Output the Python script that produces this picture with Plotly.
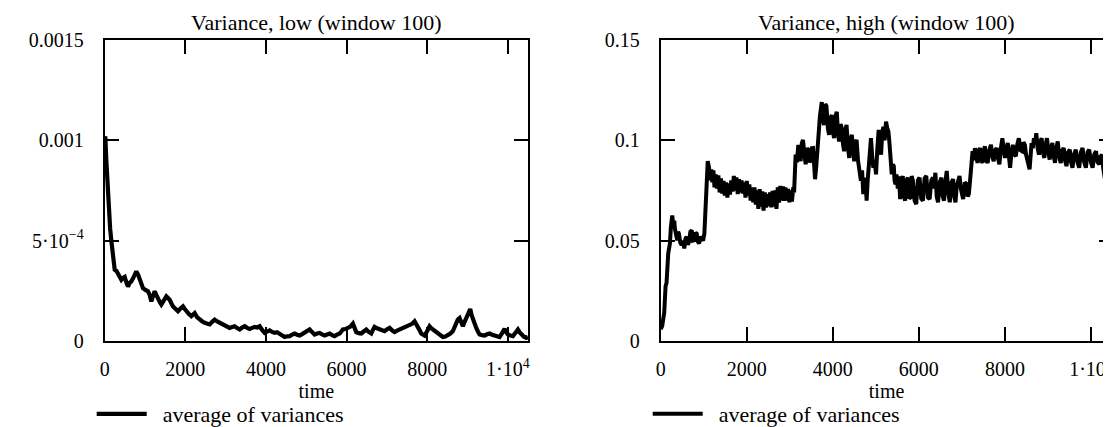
import plotly.graph_objects as go

# ---------------- data ----------------
low_time = [0, 15, 40, 65, 85, 107, 135, 165, 206, 248, 290, 330, 370, 413, 455, 496, 540, 578, 620, 661,
            720, 785, 830, 868, 910, 950, 1010, 1074, 1115, 1157, 1200, 1240, 1280, 1322, 1365, 1405,
            1470, 1529, 1570, 1612, 1650, 1694, 1760, 1818, 1880, 1942, 1985, 2025, 2090, 2149, 2190,
            2232, 2290, 2356, 2420, 2480, 2540, 2604, 2665, 2728, 2790, 2852, 2915, 2976, 3040, 3100,
            3160, 3224, 3285, 3348, 3410, 3472, 3534, 3596, 3658, 3720, 3782, 3844, 3905, 3968, 4030,
            4092, 4154, 4216, 4278, 4340, 4400, 4463, 4525, 4587, 4650, 4711, 4773, 4835, 4897, 4959,
            5020, 5083, 5124, 5207, 5270, 5331, 5393, 5455, 5517, 5579, 5641, 5703, 5765, 5827, 5870,
            5909, 5970, 6033, 6095, 6157, 6200, 6240, 6300, 6364, 6426, 6488, 6550, 6612, 6650, 6694,
            6756, 6818, 6880, 6942, 7004, 7066, 7128, 7190, 7252, 7314, 7376, 7438, 7500, 7562, 7625,
            7686, 7730, 7769, 7810, 7851, 7890, 7934, 8000, 8058, 8100, 8141, 8200, 8265, 8325, 8389,
            8450, 8513, 8575, 8637, 8680, 8720, 8760, 8802, 8845, 8885, 8925, 8968, 9020, 9067, 9100,
            9133, 9175, 9216, 9258, 9299, 9360, 9423, 9485, 9547, 9610, 9671, 9733, 9795, 9857, 9919,
            9960, 10002, 10065, 10126, 10190, 10250, 10290, 10333, 10400, 10457, 10500]
low_var = [9.6e-4, 1.02e-3, 9.0e-4, 7.8e-4, 7.0e-4, 6.35e-4, 5.6e-4, 5.0e-4, 4.0e-4, 3.55e-4, 3.5e-4,
           3.38e-4, 3.2e-4, 3.05e-4, 3.15e-4, 3.2e-4, 2.9e-4, 2.72e-4, 2.9e-4, 2.97e-4, 3.2e-4, 3.47e-4,
           3.3e-4, 3.05e-4, 2.8e-4, 2.64e-4, 2.55e-4, 2.48e-4, 2.3e-4, 1.98e-4, 2.25e-4, 2.48e-4, 2.3e-4,
           2.06e-4, 1.95e-4, 1.82e-4, 2.05e-4, 2.23e-4, 2.15e-4, 2.06e-4, 1.9e-4, 1.73e-4, 1.6e-4,
           1.49e-4, 1.62e-4, 1.73e-4, 1.6e-4, 1.49e-4, 1.35e-4, 1.24e-4, 1.32e-4, 1.40e-4, 1.2e-4,
           1.07e-4, 9.8e-5, 9.1e-5, 8.8e-5, 8.3e-5, 9.6e-5, 1.07e-4, 9.8e-5, 9.1e-5, 8.2e-5, 7.4e-5,
           7.0e-5, 6.6e-5, 7.0e-5, 7.4e-5, 6.5e-5, 5.8e-5, 6.8e-5, 7.4e-5, 6.6e-5, 6.1e-5, 6.6e-5,
           7.1e-5, 6.8e-5, 7.4e-5, 5.6e-5, 4.1e-5, 4.8e-5, 5.4e-5, 4.6e-5, 4.1e-5, 4.4e-5, 3.8e-5,
           2.8e-5, 2.1e-5, 2.4e-5, 2.5e-5, 3.2e-5, 3.8e-5, 3.2e-5, 2.8e-5, 3.5e-5, 4.1e-5, 4.8e-5,
           5.8e-5, 4.95e-5, 3.3e-5, 3.8e-5, 4.1e-5, 3.4e-5, 2.8e-5, 3.3e-5, 3.8e-5, 3.0e-5, 2.5e-5,
           3.2e-5, 3.8e-5, 4.8e-5, 5.8e-5, 6.0e-5, 6.6e-5, 7.2e-5, 8.7e-5, 6.0e-5, 4.5e-5, 4.0e-5,
           3.8e-5, 4.8e-5, 5.8e-5, 4.6e-5, 3.8e-5, 5.5e-5, 7.1e-5, 6.4e-5, 6.1e-5, 5.4e-5, 5.0e-5,
           5.9e-5, 6.6e-5, 5.4e-5, 4.5e-5, 5.2e-5, 5.8e-5, 6.2e-5, 6.6e-5, 7.2e-5, 7.8e-5, 8.6e-5,
           9.9e-5, 8.5e-5, 7.4e-5, 5.5e-5, 3.8e-5, 3.0e-5, 2.8e-5, 5.0e-5, 7.4e-5, 6.4e-5, 5.8e-5,
           4.6e-5, 3.8e-5, 2.8e-5, 2.1e-5, 2.3e-5, 2.8e-5, 3.8e-5, 5.0e-5, 7.5e-5, 9.9e-5, 1.08e-4,
           1.15e-4, 9.0e-5, 7.4e-5, 9.5e-5, 1.15e-4, 1.4e-4, 1.6e-4, 1.3e-4, 1.07e-4, 8.5e-5, 6.6e-5,
           4.8e-5, 3.3e-5, 3.0e-5, 2.8e-5, 3.4e-5, 3.8e-5, 3.2e-5, 2.8e-5, 2.4e-5, 2.1e-5, 4.0e-5,
           6.1e-5, 4.5e-5, 3.3e-5, 2.8e-5, 2.5e-5, 4.2e-5, 5.8e-5, 4.5e-5, 3.3e-5, 2.2e-5, 1.6e-5, 2.0e-5]

high_time = [
    0, 35, 58, 82, 113, 136, 175, 214, 237, 269, 290, 315, 330, 346, 365, 385, 405, 424, 455, 486,
    518, 549, 576, 603, 630, 657, 690, 720, 750, 782, 810, 837, 865, 891, 922, 953, 985, 1015, 1030,
    1046, 1069,
    1093, 1124, 1150, 1175, 1200, 1225, 1250, 1280, 1310, 1340, 1370, 1400, 1430, 1460, 1490, 1520,
    1550, 1580, 1610, 1640, 1670, 1700, 1730, 1760, 1790, 1820, 1850, 1880, 1910, 1940, 1970, 2000,
    2030, 2060, 2090, 2120, 2150, 2180, 2210, 2240, 2270, 2300, 2330, 2360, 2390, 2420, 2450, 2480,
    2510, 2540, 2570, 2600, 2630, 2660, 2690, 2720, 2750, 2780, 2810, 2840, 2870, 2900, 2930, 2960,
    2990, 3020, 3050, 3080, 3100,
    3136, 3165, 3198, 3225, 3252, 3280, 3307, 3340, 3369, 3400, 3431, 3460, 3493, 3515, 3540, 3565,
    3587, 3615, 3641, 3660, 3680,
    3700, 3720, 3743, 3770, 3797, 3825, 3852, 3885, 3914, 3945, 3976, 4003, 4030, 4060, 4093, 4120,
    4147, 4180, 4210, 4237, 4264, 4290, 4319, 4350, 4381, 4410, 4443, 4470, 4498, 4525, 4552, 4585,
    4614, 4653, 4680, 4708, 4730, 4755, 4770, 4786, 4810, 4833, 4860, 4887, 4915, 4942, 4975, 5004,
    5035, 5066, 5095, 5121, 5150, 5175, 5205, 5237, 5265, 5292, 5315, 5339, 5355, 5370, 5395, 5417,
    5435, 5456,
    5480, 5510, 5537, 5565, 5595, 5627, 5655, 5681, 5712, 5744, 5775, 5806, 5833, 5860, 5900, 5938,
    5977, 6016, 6055, 6094, 6133, 6172, 6211, 6250, 6289, 6328, 6355, 6383, 6415, 6445, 6485, 6523,
    6555, 6585, 6615, 6648, 6683, 6718, 6757, 6796, 6823, 6850, 6880, 6913, 6945, 6975, 7000, 7029,
    7068, 7107, 7135, 7162, 7190, 7209, 7230, 7248,
    7275, 7302, 7333, 7364, 7392, 7419, 7450, 7481, 7508, 7536, 7567, 7598, 7637, 7676, 7707, 7738,
    7773, 7808, 7840, 7871, 7906, 7941, 7972, 8003, 8035, 8066, 8093, 8120, 8150, 8182, 8218, 8253,
    8288, 8323, 8362, 8401, 8432, 8463, 8490, 8518, 8545, 8573, 8596, 8619, 8647, 8674, 8700, 8729,
    8760, 8791, 8822, 8853, 8884, 8915, 8947, 8978, 9009, 9040, 9071, 9102, 9133, 9165, 9196, 9227,
    9262, 9297, 9332, 9367, 9398, 9430, 9469, 9508, 9539, 9570, 9609, 9648, 9687, 9726, 9765, 9804,
    9843, 9882, 9921, 9960, 9999, 10038, 10077, 10116, 10155, 10194, 10225, 10257, 10285, 10311,
    10340, 10366, 10390, 10413, 10440, 10467, 10500]
high_var = [
    0.006, 0.0076, 0.0109, 0.0142, 0.0273, 0.029, 0.0437, 0.0486, 0.0568, 0.0625, 0.0580, 0.0600,
    0.0560, 0.0535, 0.0520, 0.0502, 0.0545, 0.0535, 0.0490, 0.0478, 0.0500, 0.0461, 0.0510, 0.0520,
    0.0480, 0.0494, 0.0545, 0.0552, 0.0500, 0.0502, 0.0540, 0.0535, 0.0495, 0.0486, 0.0520, 0.0510,
    0.0500, 0.0535, 0.0600, 0.0682, 0.0765,
    0.0896, 0.0863, 0.0800, 0.0855, 0.0790, 0.0850, 0.0765, 0.0830, 0.0760, 0.0825, 0.0740, 0.0810,
    0.0735, 0.0798, 0.0725, 0.0790, 0.0715, 0.0785, 0.0730, 0.0800, 0.0745, 0.0822, 0.0750, 0.0815,
    0.0732, 0.0806, 0.0740, 0.0800, 0.0735, 0.0790, 0.0715, 0.0798, 0.0725, 0.0780, 0.0700, 0.0765,
    0.0691, 0.0765, 0.0680, 0.0750, 0.0658, 0.0757, 0.0670, 0.0745, 0.0650, 0.0740, 0.0665, 0.0732,
    0.0672, 0.0740, 0.0666, 0.0748, 0.0670, 0.0750, 0.0658, 0.0765, 0.0690, 0.0773, 0.0700, 0.0770,
    0.0699, 0.0765, 0.0700, 0.0757, 0.0691, 0.0750, 0.0695, 0.0765, 0.0740,
    0.0928, 0.0890, 0.0977, 0.0920, 0.0896, 0.0985, 0.1002, 0.0930, 0.0880, 0.0960, 0.0953, 0.0890,
    0.0904, 0.0960, 0.0961, 0.0880, 0.0806, 0.0870, 0.0928, 0.0990, 0.1060,
    0.1120, 0.1170, 0.1190, 0.1100, 0.1076, 0.1180, 0.1170, 0.1060, 0.1027, 0.1110, 0.1125, 0.1040,
    0.1010, 0.1120, 0.1141, 0.1030, 0.0994, 0.1080, 0.1059, 0.0980, 0.0945, 0.1050, 0.1076, 0.0970,
    0.0912, 0.1000, 0.1027, 0.0940, 0.0896, 0.0990, 0.1002, 0.0900, 0.0847, 0.0798, 0.0850, 0.0732,
    0.0790, 0.0814, 0.0760, 0.0699, 0.0800, 0.0880, 0.0960, 0.1010, 0.0920, 0.0863, 0.0900, 0.0830,
    0.0960, 0.1051, 0.0980, 0.0928, 0.1040, 0.1067, 0.1000, 0.1093, 0.1060, 0.1044, 0.0990, 0.0928,
    0.0880, 0.0830, 0.0880, 0.0871, 0.0800, 0.0781,
    0.0830, 0.0760, 0.0820, 0.0707, 0.0800, 0.0822, 0.0720, 0.0699, 0.0800, 0.0814, 0.0710, 0.0715,
    0.0822, 0.0800, 0.0700, 0.0682, 0.0800, 0.0814, 0.0710, 0.0699, 0.0810, 0.0822, 0.0715, 0.0707,
    0.0800, 0.0814, 0.0760, 0.0838, 0.0720, 0.0691, 0.0790, 0.0814, 0.0720, 0.0699, 0.0790, 0.0847,
    0.0740, 0.0691, 0.0790, 0.0806, 0.0720, 0.0691, 0.0770, 0.0790, 0.0822, 0.0760, 0.0730, 0.0707,
    0.0790, 0.0781, 0.0720, 0.0732, 0.0800, 0.0847, 0.0900, 0.0945,
    0.0900, 0.0961, 0.0920, 0.0887, 0.0950, 0.0961, 0.0900, 0.0887, 0.0950, 0.0969, 0.0900, 0.0887,
    0.0950, 0.0977, 0.0920, 0.0896, 0.0950, 0.0961, 0.0910, 0.0880, 0.0960, 0.1010, 0.0950, 0.0912,
    0.0960, 0.0986, 0.0920, 0.0863, 0.0930, 0.0977, 0.0930, 0.0920, 0.0980, 0.1010, 0.0950, 0.0945,
    0.0990, 0.0977, 0.0930, 0.0904, 0.0880, 0.0855, 0.0920, 0.0986, 0.0960, 0.1010, 0.0980, 0.1035,
    0.0960, 0.0928, 0.0990, 0.1010, 0.0940, 0.0912, 0.0980, 0.1010, 0.0940, 0.0904, 0.0960, 0.0986,
    0.0920, 0.0887, 0.0960, 0.0994, 0.0920, 0.0887, 0.0950, 0.0961, 0.0900, 0.0871, 0.0940, 0.0953,
    0.0890, 0.0863, 0.0930, 0.0953, 0.0890, 0.0863, 0.0940, 0.0961, 0.0890, 0.0863, 0.0940, 0.0953,
    0.0890, 0.0863, 0.0930, 0.0945, 0.0890, 0.0880, 0.0920, 0.0928, 0.0860, 0.0814, 0.0780, 0.0748,
    0.0800, 0.0830, 0.0880, 0.0912, 0.0945]

x_tickvals = [0, 2000, 4000, 6000, 8000, 10000]
x_ticktext = ["0", "2000", "4000", "6000", "8000", "1\u00b710<sup>4</sup>"]
low_tickvals = [0, 0.0005, 0.001, 0.0015]
low_ticktext = ["0", "5\u00b710<sup>\u22124</sup>", "0.001", "0.0015"]
high_tickvals = [0, 0.05, 0.1, 0.15]
high_ticktext = ["0", "0.05", "0.1", "0.15"]
titles = ["Variance, low (window 100)", "Variance, high (window 100)"]
series_name = "\u00a0\u00a0average of variances"
x_title = "time"

# ---------------- figure ----------------
FONT = "Liberation Serif, Times New Roman, serif"
W, H = 1111, 427
dom_x1 = [96.7 / W, 520 / W]
dom_x2 = [652.7 / W, 1104.5 / W]
dom_y = [1 - 335.5 / H, 1 - 32 / H]

fig = go.Figure()
fig.add_trace(go.Scatter(x=low_time, y=low_var, mode="lines", name=series_name,
                         line=dict(color="black", width=4.2), xaxis="x", yaxis="y",
                         legend="legend"))
fig.add_trace(go.Scatter(x=high_time, y=high_var, mode="lines", name=series_name,
                         line=dict(color="black", width=4), xaxis="x2", yaxis="y2",
                         legend="legend2"))

axis_common = dict(showline=True, linecolor="black", linewidth=2, mirror="allticks",
                   ticks="inside", ticklen=14, tickwidth=2, tickcolor="black",
                   showgrid=False, zeroline=False, automargin=False,
                   tickfont=dict(family=FONT, size=20, color="black"))

fig.update_layout(
    width=W, height=H,
    margin=dict(l=0, r=0, t=0, b=0),
    paper_bgcolor="white", plot_bgcolor="white",
    font=dict(family=FONT, color="black"),
    xaxis=dict(domain=dom_x1, range=[0, 10500], tickvals=x_tickvals, ticktext=x_ticktext,
               anchor="y", ticklabelstandoff=9,
               title=dict(text=x_title, font=dict(family=FONT, size=20), standoff=0),
               **axis_common),
    yaxis=dict(domain=dom_y, range=[0, 0.0015], tickvals=low_tickvals, ticktext=low_ticktext,
               anchor="x", ticklabelstandoff=15, **axis_common),
    xaxis2=dict(domain=dom_x2, range=[0, 10500], tickvals=x_tickvals, ticktext=x_ticktext,
                anchor="y2", ticklabelstandoff=9,
                title=dict(text=x_title, font=dict(family=FONT, size=20), standoff=0),
                **axis_common),
    yaxis2=dict(domain=dom_y, range=[0, 0.15], tickvals=high_tickvals, ticktext=high_ticktext,
                anchor="x2", ticklabelstandoff=15, **axis_common),
    legend=dict(x=(96.7 - 13) / W, y=1 - 409 / H, xanchor="left", yanchor="middle",
                font=dict(family=FONT, size=22), bgcolor="rgba(0,0,0,0)", itemwidth=50),
    legend2=dict(x=(652.7 - 13) / W, y=1 - 409 / H, xanchor="left", yanchor="middle",
                 font=dict(family=FONT, size=22), bgcolor="rgba(0,0,0,0)", itemwidth=50),
    showlegend=True,
)

for dom, txt in zip([dom_x1, dom_x2], titles):
    fig.add_annotation(text=txt, xref="paper", yref="paper", x=(dom[0] + dom[1]) / 2,
                       y=1 - 15 / H, xanchor="center", yanchor="middle", showarrow=False,
                       font=dict(family=FONT, size=22, color="black"))

fig.write_html("out.html")
